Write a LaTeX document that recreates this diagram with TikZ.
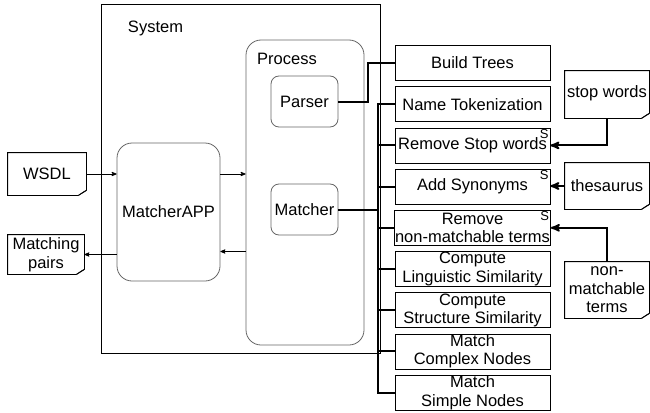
\documentclass[tikz,border=0pt]{standalone}
\usepackage{fontspec}
\setmainfont{Liberation Sans}
\usetikzlibrary{calc}
\usetikzlibrary{arrows}

\newcommand{\docshape}[1]{%
  \draw (#1.north west) -- (#1.north east) -- ([yshift=5pt]#1.south east)
    -- ([xshift=-8pt]#1.south east) -- (#1.south west) -- cycle;
  \draw[fill=gray!50] ([xshift=-8pt]#1.south east) -- ([xshift=-2pt,yshift=4pt]#1.south east)
    -- ([yshift=5pt]#1.south east) -- cycle;
}

\begin{document}
\begin{tikzpicture}[x=1pt,y=-1pt,>=stealth',line width=0.8pt,
  every node/.style={font=\fontsize{16.5}{18.5}\selectfont,inner sep=0.5pt},
  roundbox/.style={draw=black!60,rounded corners=#1},
  taskbox/.style={draw,minimum width=155pt,minimum height=35pt,align=center},
  docbox/.style={align=center},
  bus/.style={line width=2pt},
  smark/.style={font=\fontsize{13}{13}\selectfont,anchor=north east,inner sep=1.5pt}]

  \useasboundingbox (0,0) rectangle (650,412);

  \node(system) [draw,minimum width=279pt,minimum height=349pt] at (240.5,178.5) {};
  \node(systemlabel) at (155.5,28) {System};

  \node(process) [roundbox=15pt,minimum width=118pt,minimum height=305pt] at (305,192.5) {};
  \node(processlabel) at (287,59) {Process};
  \node(parser) [roundbox=8pt,minimum width=67pt,minimum height=51pt] at (304.5,101.5) {Parser};
  \node(matcher) [roundbox=8pt,minimum width=67pt,minimum height=51pt] at (304.5,209.5) {Matcher};

  \node(app) [roundbox=15pt,minimum width=103pt,minimum height=138pt] at (168.5,212) {MatcherAPP};

  \node(wsdl) [docbox,minimum width=78pt,minimum height=42pt] at (47,174) {WSDL};
  \docshape{wsdl}
  \node(pairs) [docbox,minimum width=76pt,minimum height=39pt] at (46,254.5) {Matching\\pairs};
  \docshape{pairs}

  \foreach \i / \txt in {1/Build Trees, 2/Name Tokenization, 3/Remove Stop words,
      4/Add Synonyms, 5/Remove\\non-matchable terms, 6/Compute\\Linguistic Similarity,
      7/Compute\\Structure Similarity, 8/Match\\Complex Nodes, 9/Match\\Simple Nodes}
  {
    \node(task\i) [taskbox] at (472.5,{63+41.2*(\i-1)}) {\txt};
  }
  \foreach \i in {3,4,5}
  {
    \node(smark\i) [smark] at (task\i.north east) {S};
  }

  \node(stop) [docbox,minimum width=84pt,minimum height=47pt,text depth=6pt] at (607,94.5) {stop words};
  \docshape{stop}
  \node(thes) [docbox,minimum width=84pt,minimum height=46pt] at (607,186) {thesaurus};
  \docshape{thes}
  \node(nonm) [docbox,minimum width=84pt,minimum height=56pt] at (607,290) {non-\\matchable\\terms};
  \docshape{nonm}

  \draw[->] (wsdl.east) -- (wsdl.east -| app.west);
  \draw[->] (app.east |- wsdl.east) -- (process.west |- wsdl.east);
  \draw[->] ([yshift=3pt]process.west |- pairs.east) -- ([yshift=3pt]app.east |- pairs.east);
  \draw[->] (app.west |- pairs.east) -- (pairs.east);

  \coordinate(bus) at ($(task2.west)+(-17,0)$);
  \draw[bus] (parser.east) -- ++(30,0) |- (task1.west);
  \draw[bus] (task2.west) -- (bus) |- (task9.west);
  \foreach \i in {3,...,8}
  {
    \draw[bus] (task\i.west) -- (task\i.west -| bus);
  }
  \draw[bus] (matcher.east) -- (matcher.east -| bus);

  \draw[bus,->] (stop.south) |- (task3.east);
  \draw[bus,->] (thes.west) -- (thes.west -| task4.east);
  \draw[bus,->] (nonm.north) |- (task5.east);
\end{tikzpicture}
\end{document}
